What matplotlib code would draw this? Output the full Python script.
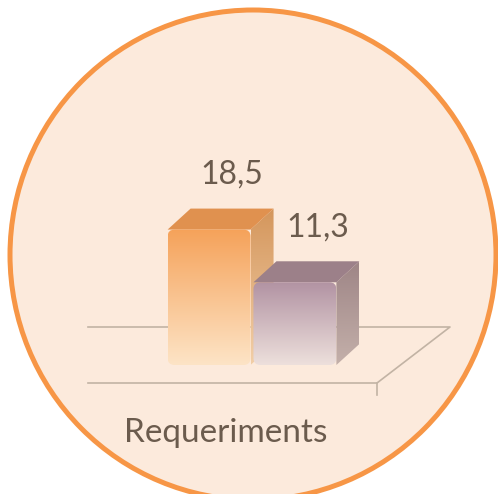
import numpy as np
import matplotlib.pyplot as plt
import matplotlib.patches as mpatches
import matplotlib.colors as mcolors

plt.rcParams['font.family'] = ['Lato', 'DejaVu Sans']

# data
category = 'Requeriments'
series_values = [18.5, 11.3]
value_labels = ['18,5', '11,3']
footer = 'establishing standardized training requirements'

W, H = 498, 494
TEXT = '#6b5b4d'
FRONT = [('#f5a25a', '#fde4c6'), ('#b293a3', '#ede0dc')]
TOPS = ['#e0914f', '#9c8089']
SIDES = [('#d4965c', '#f2cfa8'), ('#9e8586', '#c4b0aa')]
DEPTH_PX = (23, 21)


def gradient_patch(ax, patch, c_top, c_bot, x0, x1, y0, y1):
    ax.add_patch(patch)
    patch.set_facecolor('none')
    patch.set_edgecolor('none')
    cmap = mcolors.LinearSegmentedColormap.from_list('g', [c_bot, c_top])
    grad = np.linspace(0, 1, 256).reshape(-1, 1)
    im = ax.imshow(grad, extent=(x0, x1, y0, y1), origin='lower', aspect='auto',
                   cmap=cmap, interpolation='bilinear', zorder=patch.get_zorder())
    im.set_clip_path(patch)


fig = plt.figure(figsize=(W / 100, H / 100), dpi=100)
fig.patch.set_facecolor('white')

# background circle and floor (pixel canvas)
bg = fig.add_axes([0, 0, 1, 1])
bg.set_xlim(0, W)
bg.set_ylim(H, 0)
bg.axis('off')
bg.add_patch(mpatches.Ellipse((253, 255), 486, 490, fc='#fceadc', ec='#f79646', lw=3.6))
floor = '#c2b3a4'
bg.plot([88, 377, 450, 88], [383, 383, 327, 327], color=floor, lw=1.2)
bg.plot([377, 377], [383, 395], color=floor, lw=1.2)

# chart axes
ax = fig.add_axes([107 / W, (H - 365) / H, 290 / W, 7.32 * 30 / H])
ax.set_xlim(-0.5, 0.5)
ax.set_ylim(0, 30)
ax.axis('off')
ax.patch.set_alpha(0)
ax.set_autoscale_on(False)

p0 = ax.transData.transform((0, 0))
p1 = ax.transData.transform((1, 1))
sx, sy = p1[0] - p0[0], p1[1] - p0[1]
ddx, ddy = DEPTH_PX[0] / sx, DEPTH_PX[1] / sy

n = len(series_values)
width = 0.286
xs = (np.arange(n) - (n - 1) / 2) * (width + 0.01)

for i, (x, v) in enumerate(zip(xs, series_values)):
    x0, x1 = x - width / 2, x + width / 2
    z = 2 + i
    # side face
    side = mpatches.Polygon([(x1, 0), (x1, v), (x1 + ddx, v + ddy), (x1 + ddx, ddy)],
                            closed=True, zorder=z)
    gradient_patch(ax, side, SIDES[i][0], SIDES[i][1], x1, x1 + ddx, 0, v + ddy)
    # top face
    ax.add_patch(mpatches.Polygon([(x0, v), (x1, v), (x1 + ddx, v + ddy), (x0 + ddx, v + ddy)],
                                  closed=True, fc=TOPS[i], ec='none', zorder=z))
    # front face
    r = 7 / sx
    front = mpatches.FancyBboxPatch((x0, 0), width, v,
                                    boxstyle=f'round,pad=0,rounding_size={r}',
                                    mutation_aspect=sx / sy, zorder=z)
    gradient_patch(ax, front, FRONT[i][0], FRONT[i][1], x0, x1, 0, v)
    ax.annotate(value_labels[i], (x + ddx, v + ddy), xytext=(0, 18),
                textcoords='offset points', ha='center', va='baseline',
                fontsize=23, color=TEXT, zorder=10)

fig.text(226 / W, 1 - 442 / H, category, ha='center', va='baseline',
         fontsize=24, color=TEXT)
fig.text(0.5, 1 - 496 / H, footer, ha='center', va='top', fontsize=24, color='#984807')

fig.savefig('out.png', dpi=100)
